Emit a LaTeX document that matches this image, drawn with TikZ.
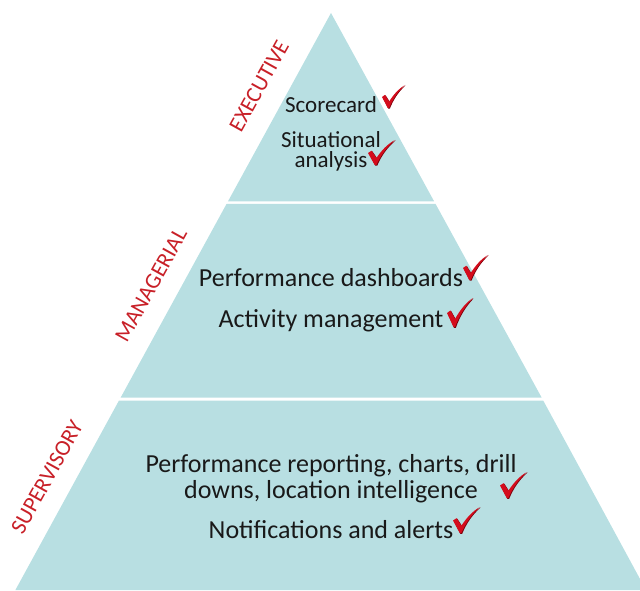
\documentclass[tikz,border=0pt]{standalone}
\usepackage{fontspec}
\setmainfont{Carlito}
\definecolor{band}{RGB}{184,223,226}
\definecolor{lblred}{RGB}{200,32,40}
\definecolor{chkred}{RGB}{212,12,28}
\definecolor{chkdark}{RGB}{120,0,10}
\tikzset{
  bandfill/.style={fill=band, draw=none},
  item/.style={anchor=base, inner sep=0pt, font=\fontsize{26}{26}\selectfont, text=black!90},
  topitem/.style={item, font=\fontsize{23}{23}\selectfont},
  level/.style={text=lblred, font=\fontsize{22.5}{22.5}\selectfont, rotate=61, inner sep=0pt},
  chk/.pic={
    \fill[chkdark] (0.03,0.46) -- (0.16,0.55) -- (0.34,0.26) .. controls (0.52,0.56) and (0.74,0.82) .. (1.02,0.98)
      .. controls (0.72,0.70) and (0.50,0.38) .. (0.34,-0.03) -- (0.27,-0.03) -- cycle;
    \fill[chkred] (0,0.48) -- (0.13,0.57) -- (0.31,0.28) .. controls (0.5,0.58) and (0.72,0.84) .. (1,1)
      .. controls (0.70,0.72) and (0.48,0.40) .. (0.31,0) -- (0.25,0) -- cycle;
  }
}
\begin{document}
\begin{tikzpicture}[x=1pt,y=1pt]
\useasboundingbox (0,0) rectangle (640,590);
\begin{scope}
\clip (0,0) rectangle (640,590);
% bands
\fill[bandfill] (331,577) -- (434.2,388.5) -- (227.9,388.5) -- cycle;
\fill[bandfill] (226.5,386) -- (435.6,386) -- (541.6,192.5) -- (120.7,192.5) -- cycle;
\fill[bandfill] (119.0,189.5) -- (543.2,189.5) -- (646.0,0) -- (15.4,0) -- cycle;
\end{scope}
% level labels
\node[level] (exec) at (259,504) {EXECUTIVE};
\node[level] (mgr) at (151,305) {MANAGERIAL};
\node[level] (sup) at (47,113) {SUPERVISORY};
% executive items
\node[topitem] (score) at (331,477) {Scorecard};
\node[topitem] (sit1) at (331,442) {Situational};
\node[topitem] (sit2) at (331,422) {analysis};
% managerial items
\node[item] (dash) at (331,303) {Performance dashboards};
\node[item] (act) at (331,263) {Activity management};
% supervisory items
\node[item] (rep1) at (331,118) {Performance reporting, charts, drill};
\node[item] (rep2) at (331,92) {downs, location intelligence};
\node[item] (notif) at (331,52) {Notifications and alerts};
% checks
\pic[xscale=23,yscale=23] at (382,482) {chk};
\pic[xscale=27,yscale=25] at (368,425) {chk};
\pic[xscale=25,yscale=25] at (463,310) {chk};
\pic[xscale=26,yscale=29] at (447,263) {chk};
\pic[xscale=27,yscale=26] at (500,92) {chk};
\pic[xscale=27,yscale=26] at (453,57) {chk};
\end{tikzpicture}
\end{document}
